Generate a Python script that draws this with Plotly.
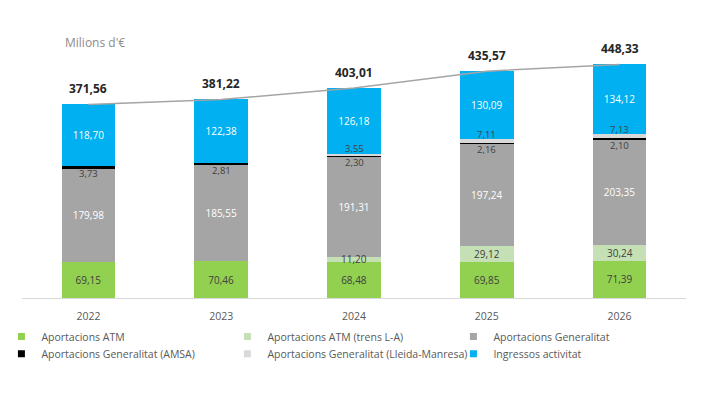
import plotly.graph_objects as go

years = ["2022", "2023", "2024", "2025", "2026"]
atm = [69.15, 70.46, 68.48, 69.85, 71.39]
atm_la = [0, 0, 11.20, 29.12, 30.24]
generalitat = [179.98, 185.55, 191.31, 197.24, 203.35]
amsa = [3.73, 2.81, 2.30, 2.16, 2.10]
lleida = [0, 0, 3.55, 7.11, 7.13]
ingressos = [118.70, 122.38, 126.18, 130.09, 134.12]
totals = [371.56, 381.22, 403.01, 435.57, 448.33]

names = ["Aportacions ATM", "Aportacions ATM (trens L-A)", "Aportacions Generalitat",
         "Aportacions Generalitat (AMSA)", "Aportacions Generalitat (Lleida-Manresa)",
         "Ingressos activitat"]
colors = ["#92D050", "#C5E0B4", "#A5A5A5", "#000000", "#D9D9D9", "#00B0F0"]
series = [atm, atm_la, generalitat, amsa, lleida, ingressos]

FONT = "Open Sans, sans-serif"


def fmt(v):
    return f"{v:.2f}".replace(".", ",")


fig = go.Figure()

# bars (labels for big segments inside)
inside_text = {0: "#404040", 2: "#FFFFFF", 5: "#FFFFFF"}
for i, (nm, col, vals) in enumerate(zip(names, colors, series)):
    if i in inside_text:
        fig.add_trace(go.Bar(
            x=years, y=vals, name=nm, marker=dict(color=col, line=dict(width=0)),
            text=[fmt(v) for v in vals], textposition="inside", insidetextanchor="middle",
            textangle=0, textfont=dict(family=FONT, size=10, color=inside_text[i]),
            showlegend=False, hoverinfo="skip"))
    else:
        fig.add_trace(go.Bar(
            x=years, y=vals, name=nm, marker=dict(color=col, line=dict(width=0)),
            textposition="none", showlegend=False, hoverinfo="skip"))

# small-segment labels via annotations (x given as category index)
annotations = []
shifts = {1: 0, 3: -6.5, 4: 6.5}
for j, yr in enumerate(years):
    base = 0.0
    for i, vals in enumerate(series):
        v = vals[j]
        if i in shifts and v > 0:
            annotations.append(dict(
                x=j, y=base + v / 2, xref="x", yref="y", text=fmt(v), showarrow=False,
                yshift=shifts[i], borderpad=0,
                font=dict(family=FONT, size=10 if i == 1 else 9.5, color="#404040")))
        base += v
    annotations.append(dict(
        x=j, y=totals[j], xref="x", yref="y", text="<b>" + fmt(totals[j]) + "</b>",
        showarrow=False, yshift=16, font=dict(family=FONT, size=12, color="#262626")))

# total line
fig.add_trace(go.Scatter(
    x=years, y=totals, mode="lines", line=dict(color="#A5A5A5", width=1.5),
    showlegend=False, hoverinfo="skip"))

# legend proxies: first three in legend (row 1), last three in legend2 (row 2)
for k, (nm, col) in enumerate(zip(names, colors)):
    fig.add_trace(go.Scatter(
        x=[years[0]], y=[None], mode="markers", name=nm,
        legend="legend" if k < 3 else "legend2",
        marker=dict(symbol="square", size=7, color=col), showlegend=True))

annotations.append(dict(
    x=0.062, y=1.02, xref="paper", yref="paper", text="Milions d'€", showarrow=False,
    xanchor="left", yanchor="middle", font=dict(family=FONT, size=12, color="#8C8C8C")))

legend_common = dict(orientation="h", x=-0.031, xanchor="left", yanchor="top",
                     entrywidth=181, entrywidthmode="pixels", itemwidth=30,
                     traceorder="normal", bgcolor="rgba(0,0,0,0)",
                     font=dict(family=FONT, size=10.5, color="#595959"),
                     tracegroupgap=0, itemclick=False)

fig.update_layout(
    width=718, height=388,
    margin=dict(l=14, r=40, t=40, b=98, autoexpand=False),
    barmode="stack", bargap=0.595,
    plot_bgcolor="white", paper_bgcolor="white",
    font=dict(family=FONT, color="#595959"),
    annotations=annotations,
    legend=dict(y=-0.096, **legend_common),
    legend2=dict(y=-0.165, **legend_common),
    xaxis=dict(type="category", range=[-0.5, 4.5], showline=True, linecolor="#D9D9D9",
               linewidth=1, ticks="", ticklabelstandoff=8,
               tickfont=dict(family=FONT, size=10.5, color="#595959"),
               showgrid=False, automargin=False),
    yaxis=dict(range=[0, 480], visible=False, showgrid=False, zeroline=False),
)

fig.write_html("out.html")
